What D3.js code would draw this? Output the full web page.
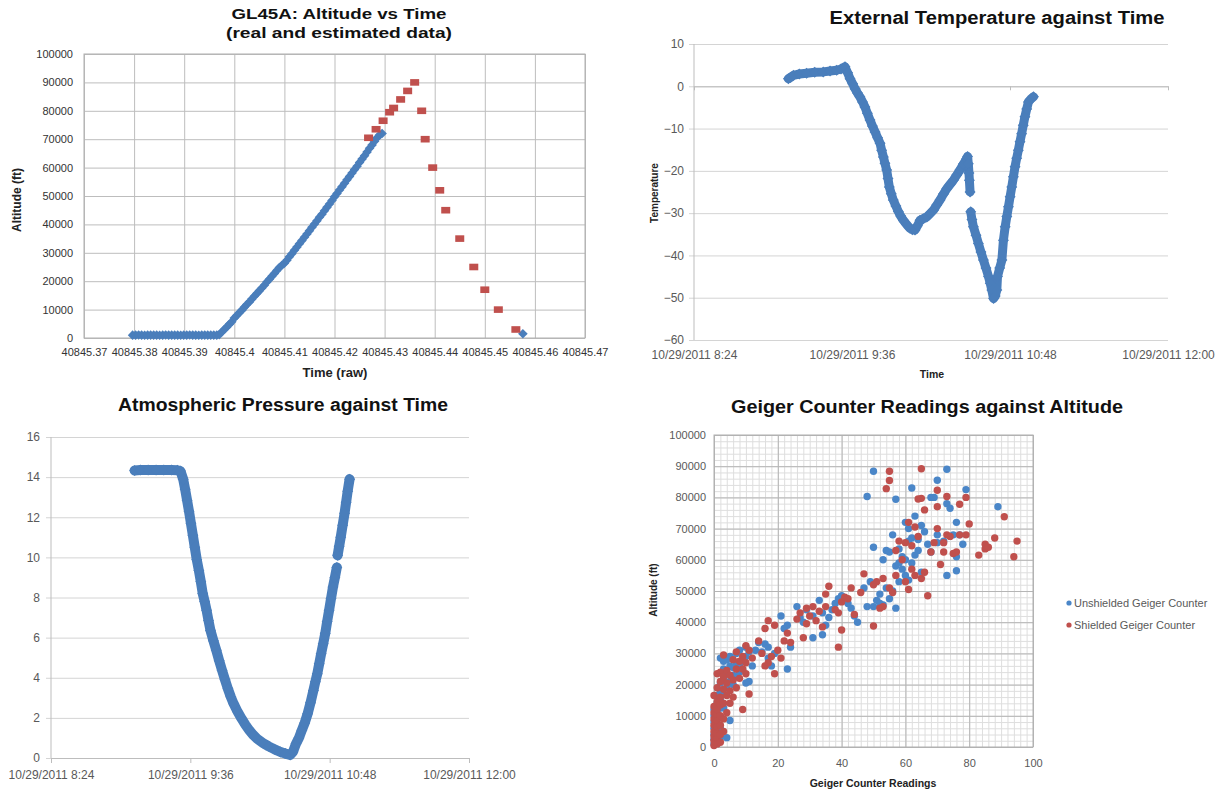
<!DOCTYPE html>
<html>
<head>
<meta charset="utf-8">
<script src="https://cdnjs.cloudflare.com/ajax/libs/d3/7.8.5/d3.min.js"></script>
<style>
body { margin: 0; background: #fff; }
text { font-family: "Liberation Sans", Arial, sans-serif; }
</style>
</head>
<body>
<div class="chart"></div>
<script>
// ---- data ----
// GL45A altitude, x = raw excel time
const altTicks = [40845.37, 40845.38, 40845.39, 40845.40, 40845.41, 40845.42, 40845.43, 40845.44, 40845.45, 40845.46, 40845.47];
const altTickLabels = ['40845.37', '40845.38', '40845.39', '40845.4', '40845.41', '40845.42', '40845.43', '40845.44', '40845.45', '40845.46', '40845.47'];
const altFtTicks = [0, 10000, 20000, 30000, 40000, 50000, 60000, 70000, 80000, 90000, 100000];

const altReal = [
	[40845.3797, 1000], [40845.3803, 1000], [40845.3809, 1050], [40845.3815, 1000], [40845.3821, 980],
	[40845.3827, 1000], [40845.3833, 1020], [40845.3839, 1000], [40845.3845, 1000], [40845.3851, 990],
	[40845.3857, 1000], [40845.3863, 1030], [40845.3869, 1000], [40845.3875, 1000], [40845.3881, 1010],
	[40845.3887, 1000], [40845.3893, 980], [40845.3899, 1000], [40845.3905, 1000], [40845.3911, 1040],
	[40845.3917, 1000], [40845.3923, 1000], [40845.3929, 990], [40845.3935, 1000], [40845.3941, 1020],
	[40845.3947, 1000], [40845.3953, 1000], [40845.3959, 1010], [40845.3965, 1000],
	[40845.3970, 1200], [40845.3975, 2100], [40845.3980, 3000], [40845.3985, 3900], [40845.3990, 4800],
	[40845.3995, 5700], [40845.4000, 7000], [40845.4005, 7900], [40845.4010, 8900], [40845.4015, 9800],
	[40845.4020, 10800], [40845.4025, 11800], [40845.4030, 12700], [40845.4035, 13700], [40845.4040, 14700],
	[40845.4045, 15700], [40845.4050, 16600], [40845.4055, 17600], [40845.4060, 18600], [40845.4065, 19700],
	[40845.4070, 20700], [40845.4075, 21700], [40845.4080, 22700], [40845.4085, 23800], [40845.4090, 24800],
	[40845.4095, 25600], [40845.4100, 26300], [40845.4105, 27400], [40845.4110, 28600], [40845.4115, 29700],
	[40845.4120, 30900], [40845.4125, 32000], [40845.4130, 33200], [40845.4135, 34300], [40845.4140, 35500],
	[40845.4145, 36600], [40845.4150, 37800], [40845.4155, 39000], [40845.4160, 40100], [40845.4165, 41300],
	[40845.4170, 42500], [40845.4175, 43600], [40845.4180, 44800], [40845.4185, 46000], [40845.4190, 47200],
	[40845.4195, 48400], [40845.4200, 49700], [40845.4205, 50900], [40845.4210, 52100], [40845.4215, 53300],
	[40845.4220, 54500], [40845.4225, 55700], [40845.4230, 56900], [40845.4235, 58100], [40845.4240, 59300],
	[40845.4245, 60500], [40845.4250, 61800], [40845.4255, 63000], [40845.4260, 64200], [40845.4265, 65500],
	[40845.4270, 66800], [40845.4275, 68000], [40845.4280, 69300], [40845.4285, 70500], [40845.4290, 71500],
	[40845.4295, 72000],
	[40845.4576, 1500]
];
const altEstimated = [
	[40845.4268, 70500], [40845.4283, 73500], [40845.4297, 76500], [40845.4310, 79500], [40845.4318, 81000],
	[40845.4332, 84000], [40845.4346, 87000], [40845.4360, 90000], [40845.4374, 80000], [40845.4381, 70000],
	[40845.4396, 60000], [40845.4410, 52000], [40845.4422, 45000], [40845.4450, 35000], [40845.4478, 25000],
	[40845.4500, 17000], [40845.4527, 10000], [40845.4562, 3000]
];

// time axis for temperature and pressure
const day = '10/29/2011';
const timeTicks = ['8:24', '9:36', '10:48', '12:00'];
const tempTicks = [10, 0, -10, -20, -30, -40, -50, -60];
const presTicks = [0, 2, 4, 6, 8, 10, 12, 14, 16];

const tempReadings = [
	['9:07:00', 1.8], ['9:08:00', 2.1], ['9:09:18', 2.6], ['9:12:00', 2.9], ['9:15:18', 3.1],
	['9:19:00', 3.3], ['9:22:54', 3.4], ['9:26:00', 3.6], ['9:29:00', 3.8], ['9:31:00', 4.1],
	['9:32:48', 4.6], ['9:34:00', 3.2], ['9:35:06', 1.8], ['9:36:18', 0.6], ['9:37:24', -0.6],
	['9:38:30', -1.6], ['9:39:36', -2.5], ['9:40:48', -3.7], ['9:41:54', -4.9], ['9:43:00', -6.4],
	['9:44:12', -8.0], ['9:45:18', -9.4], ['9:46:30', -10.8], ['9:47:40', -12.2], ['9:48:48', -13.5],
	['9:49:30', -15.1], ['9:50:18', -16.7], ['9:51:00', -18.2], ['9:51:48', -19.8], ['9:52:24', -21.8],
	['9:53:00', -23.8], ['9:53:54', -25.4], ['9:54:48', -26.9], ['9:56:00', -28.3], ['9:57:06', -29.6],
	['9:58:12', -30.7], ['9:59:24', -31.7], ['10:00:54', -32.7], ['10:02:24', -33.6], ['10:03:30', -33.9],
	['10:04:42', -34.0], ['10:05:48', -33.0], ['10:07:00', -31.7], ['10:08:30', -31.3], ['10:10:06', -30.9],
	['10:11:36', -30.1], ['10:13:06', -29.3], ['10:14:36', -28.1], ['10:16:06', -26.9], ['10:17:40', -25.5],
	['10:19:12', -24.2], ['10:20:42', -23.2], ['10:22:12', -22.2], ['10:23:42', -21.0], ['10:25:12', -19.8],
	['10:26:46', -18.4], ['10:28:18', -17.1], ['10:28:40', -16.6], ['10:29:00', -18.3], ['10:29:18', -20.5],
	['10:29:30', -22.2], ['10:29:48', -25.0],
	['10:29:57', null], // gap in logged data
	['10:30:06', -29.7], ['10:30:40', -31.5], ['10:31:18', -33.2], ['10:32:30', -35.2], ['10:33:36', -37.2],
	['10:34:45', -39.2], ['10:35:54', -41.1], ['10:37:03', -43.0], ['10:38:12', -45.0], ['10:39:00', -46.6],
	['10:39:42', -48.2], ['10:40:30', -50.2], ['10:41:15', -49.6], ['10:42:00', -48.2], ['10:42:18', -45.0],
	['10:43:18', -43.0], ['10:44:18', -41.1], ['10:45:00', -36.4], ['10:45:48', -33.2], ['10:46:33', -30.8],
	['10:47:18', -28.5], ['10:48:03', -26.1], ['10:48:48', -23.8], ['10:49:33', -21.4], ['10:50:18', -19.0],
	['10:51:03', -17.0], ['10:51:48', -15.1], ['10:52:33', -13.1], ['10:53:18', -11.2], ['10:54:03', -9.2],
	['10:54:48', -7.2], ['10:55:36', -5.4], ['10:56:24', -3.7], ['10:57:30', -3.0], ['10:58:42', -2.5]
];

const presReadings = [
	['9:07:12', 14.33], ['9:10:12', 14.35], ['9:14:12', 14.36], ['9:18:18', 14.35], ['9:22:18', 14.36],
	['9:26:18', 14.35], ['9:29:18', 14.34], ['9:30:54', 14.3], ['9:32:18', 13.9], ['9:33:18', 13.4],
	['9:34:18', 12.85], ['9:35:18', 12.3], ['9:36:18', 11.7], ['9:37:18', 11.1], ['9:38:18', 10.5],
	['9:39:18', 9.9], ['9:40:24', 9.35], ['9:41:24', 8.8], ['9:42:24', 8.2], ['9:43:24', 7.8],
	['9:44:24', 7.36], ['9:45:24', 6.85], ['9:46:24', 6.36], ['9:47:54', 5.85], ['9:49:24', 5.37],
	['9:50:54', 4.85], ['9:52:24', 4.37], ['9:53:54', 3.9], ['9:55:24', 3.45], ['9:56:54', 3.05],
	['9:58:24', 2.7], ['10:00:27', 2.3], ['10:02:30', 1.96], ['10:04:30', 1.65], ['10:06:30', 1.38],
	['10:08:30', 1.15], ['10:10:30', 0.96], ['10:13:30', 0.75], ['10:16:30', 0.58], ['10:19:33', 0.43],
	['10:22:36', 0.3], ['10:25:06', 0.22], ['10:27:36', 0.15], ['10:29:00', 0.3], ['10:30:36', 0.71],
	['10:32:06', 1.0], ['10:33:36', 1.38], ['10:35:06', 1.75], ['10:36:36', 2.2], ['10:38:06', 2.75],
	['10:39:36', 3.37], ['10:40:36', 3.8], ['10:41:36', 4.2], ['10:42:36', 4.7], ['10:43:36', 5.2],
	['10:44:39', 5.7], ['10:45:42', 6.2], ['10:46:42', 6.8], ['10:47:42', 7.36], ['10:48:42', 7.95],
	['10:49:42', 8.52], ['10:50:42', 9.0], ['10:51:42', 9.5],
	['10:51:54', null], // gap
	['10:52:06', 10.1], ['10:52:54', 10.55], ['10:53:42', 11.0], ['10:54:42', 11.6], ['10:55:42', 12.2],
	['10:56:30', 12.75], ['10:57:18', 13.3], ['10:58:18', 13.9]
];

// geiger counters: [reading, altitude ft]
const geigerTicks = [0, 20, 40, 60, 80, 100];
const unshielded = [
	[0, 1000], [0, 2500], [0, 4000], [0, 6000], [0, 8000], [0, 10000], [0, 12000], [1, 2000], [1, 5000],
	[1, 7500], [1, 9000], [1, 11000], [1, 14000], [1, 16500], [2, 3000], [2, 6000], [2, 9500], [2, 12500],
	[2, 15000], [2, 18000], [2, 20500], [2, 28500], [3, 17000], [3, 22000], [3, 25000], [3, 27500], [3, 12500],
	[4, 3000], [4, 19000], [4, 24000], [4, 28000], [5, 8500], [5, 21000], [5, 26000], [5, 29000], [6, 20000],
	[6, 23000], [6, 25500], [7, 22500], [7, 27000], [7, 30000], [8, 24000], [8, 26500], [8, 31000], [9, 24500],
	[9, 27500], [10, 20500], [10, 29000], [10, 32000], [11, 21000], [11, 30500], [12, 26000],
	[13, 31000], [14, 33500], [15, 30500], [16, 33000], [17, 32000], [17, 28500], [18, 26000], [19, 30000],
	[21, 42000], [22, 38000], [23, 25000], [23, 39000], [24, 32000], [26, 45000], [27, 41500], [28, 40000],
	[29, 44000], [31, 35000], [31, 42000], [33, 47000], [34, 36000], [34, 43000], [35, 39000], [36, 41500],
	[37, 44000], [38, 46000], [39, 47500], [40, 48500], [41, 47000], [42, 46000], [43, 44500], [44, 42000],
	[45, 40000],
	[47, 51000], [48, 45000], [48, 80300], [49, 53000], [50, 45000], [50, 64000], [50, 88400], [51, 47000],
	[52, 46000], [52, 49000], [53, 45500], [53, 60000], [54, 63000], [54, 51000], [55, 62500], [55, 47500],
	[56, 68000], [56, 50000], [57, 44500], [57, 79400], [57, 58000], [58, 59000], [58, 53000], [58, 63500],
	[59, 57000], [59, 61000], [60, 72000], [60, 60000], [60, 55000], [61, 66000], [61, 70000], [61, 53500],
	[62, 83000], [62, 67000], [62, 59000], [63, 74000], [63, 61500], [64, 63000], [64, 66500], [65, 71000],
	[65, 56000], [66, 69000], [67, 65000], [68, 80000], [68, 62500], [69, 80000], [70, 85500], [70, 65500],
	[70, 68000], [72, 66000], [73, 89000], [73, 55000], [73, 78000], [74, 76500], [75, 68000], [76, 72000],
	[76, 61000], [76, 56500], [77, 68000], [78, 65000], [79, 82500], [89, 77000]
];
const shielded = [
	[0, 500], [0, 2000], [0, 3500], [0, 5000], [0, 7000], [0, 9000], [0, 11000], [0, 13000], [0, 16500],
	[1, 1000], [1, 3000], [1, 4500], [1, 6500], [1, 8500], [1, 10500], [1, 12000], [1, 14500], [1, 19000],
	[1, 23500], [2, 1500], [2, 4000], [2, 7000], [2, 10000], [2, 13500], [2, 16000], [2, 21000], [2, 24000],
	[3, 5000], [3, 9000], [3, 14000], [3, 18500], [3, 22500], [3, 29500], [4, 11000], [4, 16500], [4, 20500],
	[4, 24500], [5, 14000], [5, 18000], [5, 23000], [6, 16000], [6, 21500], [6, 28000], [7, 19000], [7, 25000],
	[7, 30500], [8, 22000], [8, 27500], [9, 12000], [9, 25000], [9, 29000], [10, 27000], [10, 32500],
	[10, 23500], [11, 17000], [11, 31000], [12, 28500],
	[14, 34000], [15, 30000], [16, 26000], [16, 38000], [17, 40500], [17, 27000], [18, 29000], [19, 23500],
	[19, 39000], [20, 31000], [21, 28500], [22, 34000], [23, 36500], [24, 33500], [26, 41000], [27, 43000],
	[28, 35000], [29, 39500], [29, 44500], [30, 42000], [31, 45000], [32, 40500], [33, 43500], [34, 38500],
	[35, 45000], [35, 49000], [36, 51500], [38, 44000], [39, 32000], [39, 43000], [40, 37500], [40, 46500],
	[41, 48000], [42, 47500], [43, 51000], [44, 42500], [46, 49500], [47, 55500],
	[50, 38800], [50, 52000], [51, 53000], [52, 44500], [53, 54000], [53, 45000], [54, 82800], [55, 88400],
	[55, 85400], [55, 51000], [56, 49500], [57, 55000], [57, 63000], [58, 66000], [59, 60000], [60, 53000],
	[60, 65500], [61, 72000], [61, 50500], [62, 57000], [62, 64500], [63, 70500], [63, 55000], [64, 79500],
	[64, 67500], [65, 89200], [65, 79700], [65, 54000], [66, 76000], [66, 56000], [67, 48500], [68, 62500],
	[69, 65500], [70, 82300], [70, 70000], [70, 77000], [71, 58500], [72, 65500], [72, 62500], [73, 80300],
	[73, 68000], [74, 67500], [75, 62000], [76, 62500], [77, 68000], [77, 77800], [79, 80000], [79, 68000],
	[80, 71500], [83, 61500], [85, 63500], [85, 65000], [86, 64000], [88, 67000], [91, 73800], [94, 61000],
	[95, 66000]
];

const blue = '#4a7ebb';
const red = '#c0504d';

// ---- helpers ----
const parseStamp = d3.timeParse('%m/%d/%Y %H:%M:%S');
const stamp = s => parseStamp(`${day} ${s}`);
const diamond = r => `M0,${-r}L${r},0L0,${r}L${-r},0Z`;
const plain = d3.format('d'); // excel shows 100000, no comma

function styleAxis(g, lineColor, textColor, size) {
	g.select('.domain').remove();
	g.selectAll('line').attr('stroke', lineColor);
	g.selectAll('text')
		.attr('fill', textColor)
		.style('font-size', size + 'px')
		.style('font-family', '"Liberation Sans", Arial, sans-serif');
}

function title(g, x, y, txt, size, len) {
	g.append('text')
		.attr('x', x).attr('y', y)
		.attr('text-anchor', 'middle')
		.attr('textLength', len)
		.attr('lengthAdjust', 'spacingAndGlyphs')
		.style('font-weight', 'bold')
		.style('font-size', size + 'px')
		.attr('fill', '#111')
		.text(txt);
}

function axisTitle(g, x, y, txt, size, rotate) {
	g.append('text')
		.attr('transform', `translate(${x},${y})` + (rotate ? ' rotate(-90)' : ''))
		.attr('text-anchor', 'middle')
		.style('font-weight', 'bold')
		.style('font-size', size + 'px')
		.attr('fill', '#222')
		.text(txt);
}

const svg = d3.select('.chart')
	.append('svg')
		.attr('width', 1224)
		.attr('height', 792);

// ---- panel 1: altitude vs time ----
const p1 = {l: 84, r: 585, t: 54, b: 338};
const x1 = d3.scaleLinear().domain([40845.37, 40845.47]).range([p1.l, p1.r]);
const y1 = d3.scaleLinear().domain([0, 100000]).range([p1.b, p1.t]);
const g1 = svg.append('g');

g1.append('g')
	.attr('transform', `translate(0, ${p1.b})`)
	.call(d3.axisBottom(x1).tickValues(altTicks).tickFormat((d, i) => altTickLabels[i])
		.tickSize(-(p1.b - p1.t)).tickPadding(10))
	.call(styleAxis, '#bdbdbd', '#333', 11);

g1.append('g')
	.attr('transform', `translate(${p1.l}, 0)`)
	.call(d3.axisLeft(y1).tickValues(altFtTicks).tickFormat(plain).tickSize(-(p1.r - p1.l)).tickPadding(11))
	.call(styleAxis, '#bdbdbd', '#333', 11);

g1.append('rect')
	.attr('x', p1.l).attr('y', p1.t)
	.attr('width', p1.r - p1.l).attr('height', p1.b - p1.t)
	.attr('fill', 'none').attr('stroke', '#b0b0b0');

g1.selectAll('.real')
	.data(altReal)
	.enter()
	.append('path')
		.attr('class', 'real')
		.attr('d', diamond(4.8))
		.attr('transform', d => `translate(${x1(d[0])}, ${y1(d[1])})`)
		.attr('fill', blue);

g1.selectAll('.est')
	.data(altEstimated)
	.enter()
	.append('rect')
		.attr('class', 'est')
		.attr('x', d => x1(d[0]) - 4.5)
		.attr('y', d => y1(d[1]) - 3.3)
		.attr('width', 9)
		.attr('height', 6.6)
		.attr('fill', red);

title(g1, 339, 19, 'GL45A: Altitude vs Time', 15, 215);
title(g1, 339, 38, '(real and estimated data)', 15, 226);
axisTitle(g1, 21, 200, 'Altitude (ft)', 12, true);
axisTitle(g1, 335, 377, 'Time (raw)', 13, false);

// ---- shared time scale bits ----
const timeTickDates = timeTicks.map(t => stamp(t + ':00'));
const timeLabel = (d, i) => `${day} ${timeTicks[i]}`;

function timeSeries(g, data, x, y, width) {
	const line = d3.line()
		.defined(d => d[1] !== null)
		.x(d => x(stamp(d[0])))
		.y(d => y(d[1]));
	g.append('path')
		.datum(data)
		.attr('d', line)
		.attr('fill', 'none')
		.attr('stroke', blue)
		.attr('stroke-width', width)
		.attr('stroke-linejoin', 'round')
		.attr('stroke-linecap', 'round');
	g.selectAll('.pt')
		.data(data.filter(d => d[1] !== null))
		.enter()
		.append('path')
			.attr('class', 'pt')
			.attr('d', diamond(5.5))
			.attr('transform', d => `translate(${x(stamp(d[0]))}, ${y(d[1])})`)
			.attr('fill', blue);
}

// ---- panel 2: temperature ----
const p2 = {l: 694, r: 1168, t: 44, b: 340};
const x2 = d3.scaleTime().domain([stamp('8:24:00'), stamp('12:00:00')]).range([p2.l, p2.r]);
const y2 = d3.scaleLinear().domain([-60, 10]).range([p2.b, p2.t]);
const g2 = svg.append('g');

g2.append('g')
	.attr('transform', `translate(${p2.l - 5}, 0)`)
	.call(d3.axisLeft(y2).tickValues(tempTicks).tickSize(-(p2.r - p2.l + 5)).tickPadding(5))
	.call(styleAxis, '#d4d4d4', '#595959', 12);

g2.append('line')
	.attr('x1', p2.l).attr('x2', p2.l).attr('y1', p2.t).attr('y2', p2.b)
	.attr('stroke', '#bdbdbd');

// axis crosses at 0 with tick marks, labels sit low
g2.append('g')
	.attr('transform', `translate(0, ${y2(0)})`)
	.call(d3.axisBottom(x2).tickValues(timeTickDates).tickFormat('').tickSize(4).tickSizeOuter(0))
	.call(g => g.selectAll('line, path').attr('stroke', '#bdbdbd'));

g2.append('g')
	.attr('transform', `translate(0, ${p2.b})`)
	.call(d3.axisBottom(x2).tickValues(timeTickDates).tickFormat(timeLabel).tickSize(0).tickPadding(10))
	.call(styleAxis, '#bdbdbd', '#595959', 12);

timeSeries(g2, tempReadings, x2, y2, 9);

title(g2, 997, 24, 'External Temperature against Time', 18, 335);
axisTitle(g2, 658, 193, 'Temperature', 10, true);
axisTitle(g2, 932, 378, 'Time', 10.5, false);

// ---- panel 3: pressure ----
const p3 = {l: 51, r: 469, t: 437, b: 758};
const x3 = d3.scaleTime().domain([stamp('8:24:00'), stamp('12:00:00')]).range([p3.l, p3.r]);
const y3 = d3.scaleLinear().domain([0, 16]).range([p3.b, p3.t]);
const g3 = svg.append('g');

g3.append('g')
	.attr('transform', `translate(${p3.l - 5}, 0)`)
	.call(d3.axisLeft(y3).tickValues(presTicks).tickSize(-(p3.r - p3.l + 5)).tickPadding(6))
	.call(styleAxis, '#d4d4d4', '#595959', 12);

g3.append('line')
	.attr('x1', p3.l).attr('x2', p3.l).attr('y1', p3.t).attr('y2', p3.b)
	.attr('stroke', '#bdbdbd');

g3.append('g')
	.attr('transform', `translate(0, ${p3.b})`)
	.call(d3.axisBottom(x3).tickValues(timeTickDates).tickFormat(timeLabel).tickSize(5).tickSizeOuter(0).tickPadding(7))
	.call(g => g.select('.domain').attr('stroke', '#bdbdbd'))
	.call(g => g.selectAll('line').attr('stroke', '#bdbdbd'))
	.call(g => g.selectAll('text').attr('fill', '#595959').style('font-size', '12px'));

timeSeries(g3, presReadings, x3, y3, 10);

title(g3, 283, 411, 'Atmospheric Pressure against Time', 18, 330);

// ---- panel 4: geiger counters ----
const p4 = {l: 714, r: 1033, t: 435, b: 747};
const x4 = d3.scaleLinear().domain([0, 100]).range([p4.l, p4.r]);
const y4 = d3.scaleLinear().domain([0, 100000]).range([p4.b, p4.t]);
const g4 = svg.append('g');

// minor grid
g4.append('g')
	.attr('transform', `translate(0, ${p4.b})`)
	.call(d3.axisBottom(x4).ticks(50).tickFormat('').tickSize(-(p4.b - p4.t)))
	.call(styleAxis, '#dedede', '#595959', 11);
g4.append('g')
	.attr('transform', `translate(${p4.l}, 0)`)
	.call(d3.axisLeft(y4).ticks(50).tickFormat('').tickSize(-(p4.r - p4.l)))
	.call(styleAxis, '#dedede', '#595959', 11);

// major grid + labels
g4.append('g')
	.attr('transform', `translate(0, ${p4.b})`)
	.call(d3.axisBottom(x4).tickValues(geigerTicks).tickSize(-(p4.b - p4.t)).tickPadding(12))
	.call(styleAxis, '#b5b5b5', '#595959', 11);
g4.append('g')
	.attr('transform', `translate(${p4.l}, 0)`)
	.call(d3.axisLeft(y4).tickValues(altFtTicks).tickFormat(plain).tickSize(-(p4.r - p4.l)).tickPadding(8))
	.call(styleAxis, '#b5b5b5', '#595959', 11);

g4.append('rect')
	.attr('x', p4.l).attr('y', p4.t)
	.attr('width', p4.r - p4.l).attr('height', p4.b - p4.t)
	.attr('fill', 'none').attr('stroke', '#b0b0b0');

g4.selectAll('.unsh')
	.data(unshielded)
	.enter()
	.append('circle')
		.attr('class', 'unsh')
		.attr('cx', d => x4(d[0]))
		.attr('cy', d => y4(d[1]))
		.attr('r', 3.7)
		.attr('fill', '#4a86c8');

g4.selectAll('.sh')
	.data(shielded)
	.enter()
	.append('circle')
		.attr('class', 'sh')
		.attr('cx', d => x4(d[0]))
		.attr('cy', d => y4(d[1]))
		.attr('r', 3.7)
		.attr('fill', red);

title(g4, 927, 413, 'Geiger Counter Readings against Altitude', 18, 392);
axisTitle(g4, 657, 590, 'Altitude (ft)', 10, true);
axisTitle(g4, 873, 787, 'Geiger Counter Readings', 10.5, false);

// legend
const legend = g4.selectAll('.legend')
	.data([['Unshielded Geiger Counter', '#4a86c8'], ['Shielded Geiger Counter', red]])
	.enter()
	.append('g')
		.attr('transform', (d, i) => `translate(1069, ${603 + i * 22})`);
legend.append('circle').attr('r', 2.6).attr('fill', d => d[1]);
legend.append('text')
	.attr('x', 5).attr('y', 4)
	.style('font-size', '11px')
	.attr('fill', '#595959')
	.text(d => d[0]);
</script>
</body>
</html>
